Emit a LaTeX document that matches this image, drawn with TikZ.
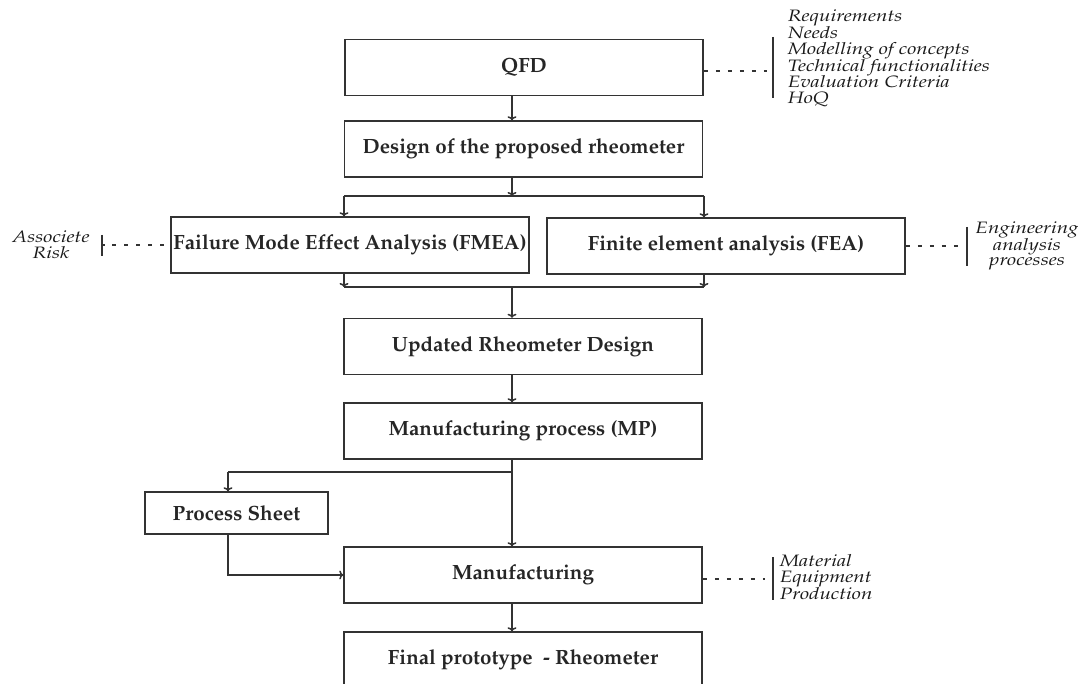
\documentclass[tikz,border=0pt]{standalone}
\usepackage[T1]{fontenc}
\usepackage{mathpazo}
\usetikzlibrary{arrows.meta}

% wide italic lines for the side notes
\newcommand{\notelines}[2]{\scalebox{1.25}[1]{\begin{tabular}{@{}#1@{}}#2\end{tabular}}}

\begin{document}
\begin{tikzpicture}[
    x=1pt, y=-1pt,
    line width=1.5pt, black!80,
    box/.style={rectangle, draw=black!80, fill=white, inner sep=0pt,
      minimum width=358pt, minimum height=56pt,
      font=\fontsize{20.6}{24}\selectfont\bfseries, text=black!85},
    arr/.style={-{To[length=4pt, width=9pt]}, black!80},
    dots/.style={black!80, dash pattern=on 4pt off 8pt},
    note/.style={font=\fontsize{16.5}{15.3}\selectfont\itshape, text=black!90, inner sep=0pt},
  ]
  \fill[white] (0,0) rectangle (1078,684);
  \useasboundingbox (0,0) rectangle (1078,684);
  \clip (0,0) rectangle (1078,684);

  \node[box] (qfd) at (524,67.5) {QFD};
  \node[box] (design) at (523.5,149) {Design of the proposed rheometer};
  \node[box] (fmea) at (350,245) {Failure Mode Effect Analysis (FMEA)};
  \node[box] (fea) at (726,246) {Finite element analysis (FEA)};
  \node[box] (upd) at (523,346.5) {Updated Rheometer Design};
  \node[box] (mp) at (523,431) {Manufacturing process (MP)};
  \node[box, minimum width=183pt, minimum height=42pt] (sheet) at (236.5,513) {Process Sheet};
  \node[box] (manu) at (523,575) {Manufacturing};
  \node[box] (final) at (523,660) {Final prototype\ \ - Rheometer};

  \coordinate (spine) at (512,0);
  \coordinate (split) at (512,196);
  \coordinate (fl) at (344,196);
  \coordinate (fr) at (704,196);
  \coordinate (jl) at (344,287);
  \coordinate (jr) at (704,287);
  \coordinate (join) at (512,287);
  \coordinate (fork) at (512,472);
  \coordinate (sl) at (228,472);

  \draw[arr] (qfd.south -| spine) -- (design.north -| spine);
  \draw[arr] (design.south -| spine) -- (split);
  \draw (fl) -- (fr);
  \draw[arr] (fl) -- (fmea.north -| fl);
  \draw[arr] (fr) -- (fea.north -| fr);
  \draw[arr] (fmea.south -| jl) -- (jl);
  \draw[arr] (fea.south -| jr) -- (jr);
  \draw (jl) -- (jr);
  \draw[arr] (join) -- (upd.north -| spine);
  \draw[arr] (upd.south -| spine) -- (mp.north -| spine);
  \draw[arr] (mp.south -| spine) -- (manu.north -| spine);
  \draw (fork) -- (sl);
  \draw[arr] (sl) -- (sheet.north -| sl);
  \draw[arr] (sheet.south -| sl) |- (manu.west);
  \draw[arr] (manu.south -| spine) -- (final.north -| spine);

  % side notes
  \node[note, anchor=west] (qfdnote) at (787,59)
    {\notelines{l}{Requirements\\Needs\\Modelling of concepts\\Technical functionalities\\Evaluation Criteria\\HoQ}};
  \node[note] (risknote) at (51,247) {\notelines{c}{Associete\\Risk}};
  \node[note] (feanote) at (1027,246) {\notelines{c}{Engineering\\analysis\\processes}};
  \node[note, anchor=west] (manunote) at (779,579) {\notelines{l}{Material\\Equipment\\Production}};

  \coordinate (qb) at (773,71);
  \coordinate (rb) at (102,245);
  \coordinate (fb) at (967,246);
  \coordinate (mb) at (773,579);

  \draw (773,37) -- (773,98);
  \draw (102,235) -- (102,256) (rb) -- ++(3,0);
  \draw (967,227) -- (967,266);
  \draw (773,557) -- (773,600);

  \draw[dots] (qfd.east |- qb) -- ([xshift=-6pt]qb);
  \draw[dots] ([xshift=10pt]rb) -- (fmea.west |- rb);
  \draw[dots] (fea.east |- fb) -- ([xshift=-3pt]fb);
  \draw[dots] (manu.east |- mb) -- ([xshift=-8pt]mb);
\end{tikzpicture}
\end{document}
